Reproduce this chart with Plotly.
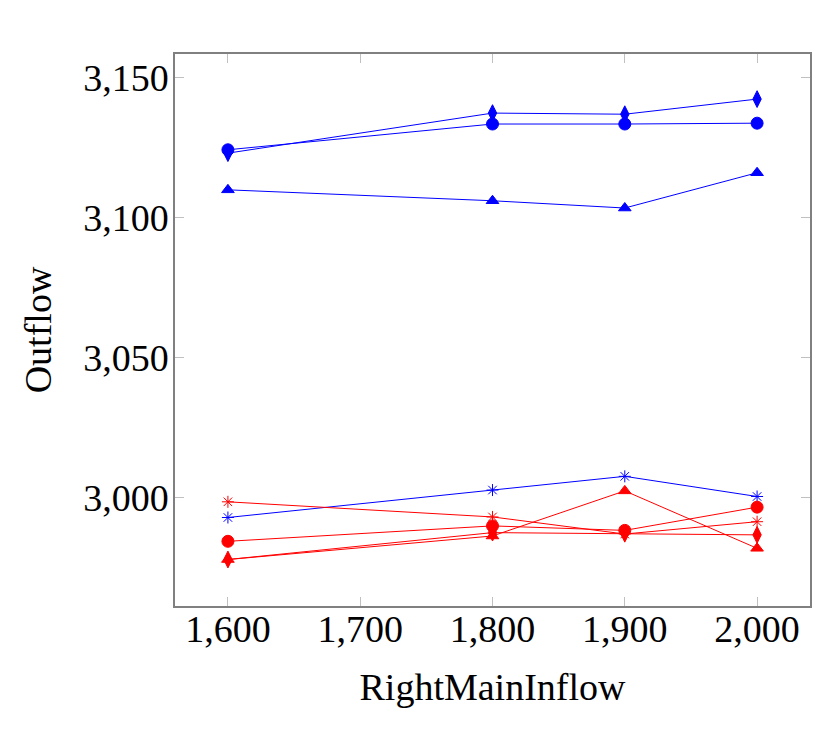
import plotly.graph_objects as go

x_vals = [1600, 1800, 1900, 2000]

# Blue series
blue_circle = [3124.2, 3133.4, 3133.4, 3133.7]
blue_diamond = [3123.0, 3137.3, 3136.9, 3142.3]
blue_triangle = [3109.9, 3106.0, 3103.4, 3116.0]
blue_star = [2992.9, 3002.7, 3007.6, 3000.4]

# Red series
red_star = [2998.5, 2993.1, 2987.0, 2991.4]
red_circle = [2984.4, 2989.9, 2988.3, 2996.6]
red_diamond = [2977.9, 2987.5, 2987.1, 2986.7]
red_triangle = [2977.9, 2986.3, 3002.4, 2981.9]

x_ticks = [1600, 1700, 1800, 1900, 2000]
y_ticks = [3000, 3050, 3100, 3150]

BLUE = "#0000ff"
RED = "#ff0000"

series = [
    (blue_circle, BLUE, "circle", 12),
    (blue_diamond, BLUE, "diamond-tall", 12),
    (blue_triangle, BLUE, "triangle-up", 11),
    (blue_star, BLUE, "asterisk-open", 10),
    (red_star, RED, "asterisk-open", 10),
    (red_circle, RED, "circle", 12),
    (red_diamond, RED, "diamond-tall", 12),
    (red_triangle, RED, "triangle-up", 11),
]

fig = go.Figure()
for ys, col, sym, sz in series:
    fig.add_trace(go.Scatter(
        x=x_vals, y=ys, mode="lines+markers",
        line=dict(color=col, width=1),
        marker=dict(symbol=sym, size=sz, color=col,
                    line=dict(color=col, width=1)),
        showlegend=False,
    ))

FONT = "Liberation Serif"
axis_common = dict(
    showline=True, linecolor="#808080", linewidth=1.5, mirror="ticks",
    ticks="inside", ticklen=9, tickcolor="#c0c0c0", tickwidth=1,
    showgrid=False, zeroline=False,
    tickfont=dict(family=FONT, size=38, color="black"),
    tickformat=",d",
)

fig.update_xaxes(
    range=[1560, 2040], tickvals=x_ticks,
    title=dict(text="RightMainInflow", font=dict(family=FONT, size=38, color="black"), standoff=24),
    ticklabelstandoff=-11,
    **axis_common,
)
fig.update_yaxes(
    range=[2961.3, 3158.4], tickvals=y_ticks,
    title=dict(text="Outflow", font=dict(family=FONT, size=38, color="black"), standoff=20),
    ticklabelstandoff=-3,
    **axis_common,
)

fig.update_layout(
    width=832, height=735,
    margin=dict(l=167, r=30, t=46, b=137),
    plot_bgcolor="white", paper_bgcolor="white",
)

fig.write_html("out.html")
